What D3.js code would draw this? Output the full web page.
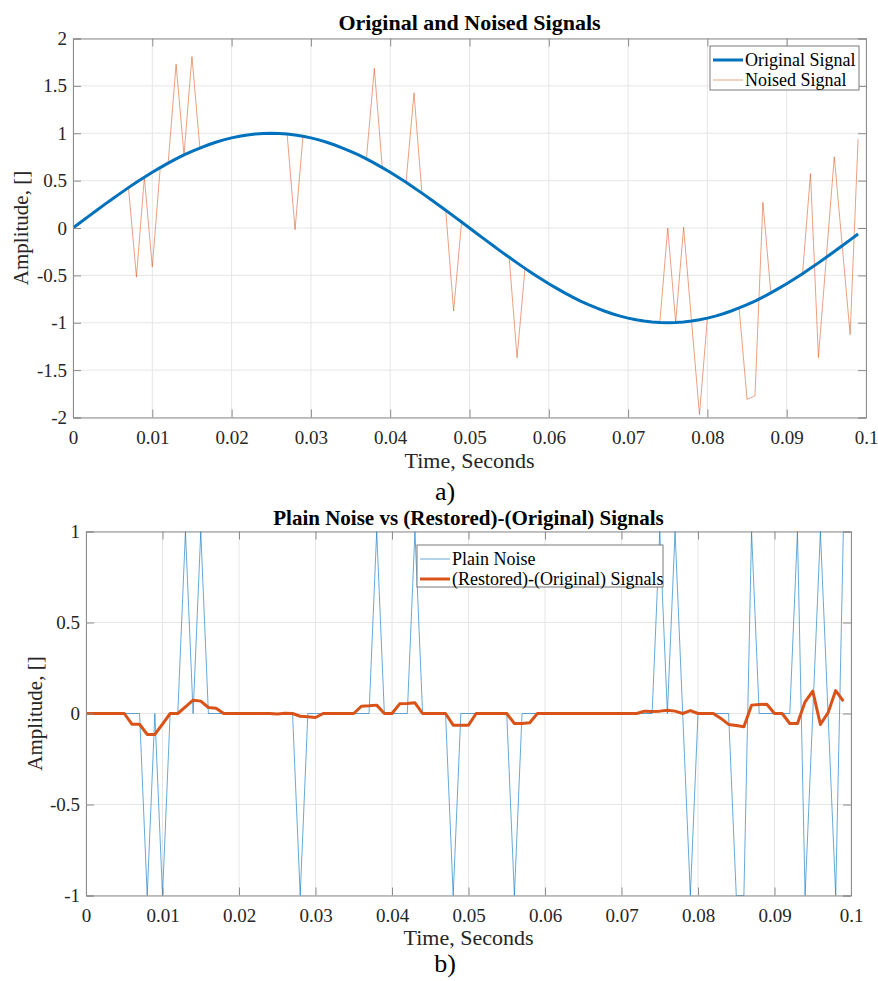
<!DOCTYPE html>
<html>
<head>
<meta charset="utf-8">
<script src="https://cdn.jsdelivr.net/npm/d3@7"></script>
<style>
  body { margin: 0; background: #fff; }
  svg { display: block; }
  svg text { font-family: "Liberation Serif", "Times New Roman", serif !important; }
</style>
</head>
<body>
<svg id="chart" width="878" height="981"></svg>
<script>
"use strict";

// sample times, 1 ms apart
const time = d3.range(100).map(i => i / 1000);

const originalSignal = [
    0, 0.063, 0.125, 0.187, 0.249, 0.309, 0.368, 0.426, 0.482, 0.536,
    0.588, 0.637, 0.685, 0.729, 0.771, 0.809, 0.844, 0.876, 0.905, 0.930,
    0.951, 0.969, 0.982, 0.992, 0.998, 1.000, 0.998, 0.992, 0.982, 0.969,
    0.951, 0.930, 0.905, 0.876, 0.844, 0.809, 0.771, 0.729, 0.685, 0.637,
    0.588, 0.536, 0.482, 0.426, 0.368, 0.309, 0.249, 0.187, 0.125, 0.063,
    0, -0.063, -0.125, -0.187, -0.249, -0.309, -0.368, -0.426, -0.482, -0.536,
    -0.588, -0.637, -0.685, -0.729, -0.771, -0.809, -0.844, -0.876, -0.905, -0.930,
    -0.951, -0.969, -0.982, -0.992, -0.998, -1.000, -0.998, -0.992, -0.982, -0.969,
    -0.951, -0.930, -0.905, -0.876, -0.844, -0.809, -0.771, -0.729, -0.685, -0.637,
    -0.588, -0.536, -0.482, -0.426, -0.368, -0.309, -0.249, -0.187, -0.125, -0.063
];

const noisedSignal = [
    0, 0.063, 0.125, 0.187, 0.249, 0.309, 0.368, 0.426, -0.518, 0.536,
    -0.412, 0.637, 0.685, 1.729, 0.771, 1.809, 0.844, 0.876, 0.905, 0.930,
    0.951, 0.969, 0.982, 0.992, 0.998, 1.000, 0.998, 0.992, -0.018, 0.969,
    0.951, 0.930, 0.905, 0.876, 0.844, 0.809, 0.771, 0.729, 1.685, 0.637,
    0.588, 0.536, 0.482, 1.426, 0.368, 0.309, 0.249, 0.187, -0.875, 0.063,
    0, -0.063, -0.125, -0.187, -0.249, -0.309, -1.368, -0.426, -0.482, -0.536,
    -0.588, -0.637, -0.685, -0.729, -0.771, -0.809, -0.844, -0.876, -0.905, -0.930,
    -0.951, -0.969, -0.982, -0.992, -0.998, 0.000, -0.998, 0.008, -0.982, -1.969,
    -0.951, -0.930, -0.905, -0.876, -0.844, -1.809, -1.771, 0.271, -0.685, -0.637,
    -0.588, -0.536, -0.482, 0.574, -1.368, -0.309, 0.751, -0.187, -1.125, 0.937
];

const plainNoise = [
    0, 0, 0, 0, 0, 0, 0, 0, -1, 0,
    -1, 0, 0, 1, 0, 1, 0, 0, 0, 0,
    0, 0, 0, 0, 0, 0, 0, 0, -1, 0,
    0, 0, 0, 0, 0, 0, 0, 0, 1, 0,
    0, 0, 0, 1, 0, 0, 0, 0, -1, 0,
    0, 0, 0, 0, 0, 0, -1, 0, 0, 0,
    0, 0, 0, 0, 0, 0, 0, 0, 0, 0,
    0, 0, 0, 0, 0, 1, 0, 1, 0, -1,
    0, 0, 0, 0, 0, -1, -1, 1, 0, 0,
    0, 0, 0, 1, -1, 0, 1, 0, -1, 1
];

const restoredMinusOriginal = [
    0, 0, 0, 0, 0, 0, -0.059, -0.059, -0.115, -0.115,
    -0.058, 0, 0, 0.037, 0.073, 0.068, 0.033, 0.029, 0, 0,
    0, 0, 0, 0, 0, -0.003, 0.002, 0, -0.015, -0.018,
    -0.022, 0, 0, 0, 0, 0, 0.040, 0.042, 0.046, 0,
    0, 0.053, 0.055, 0.059, 0, 0, 0, 0, -0.064, -0.064,
    -0.064, 0, 0, 0, 0, 0, -0.055, -0.055, -0.051, 0,
    0, 0, 0, 0, 0, 0, 0, 0, 0, 0,
    0, 0, 0, 0.013, 0.011, 0.013, 0.018, 0.013, 0, 0.016,
    0, 0, 0, -0.027, -0.060, -0.066, -0.073, 0.046, 0.049, 0.051,
    0, 0, -0.055, -0.055, 0.064, 0.123, -0.060, 0.004, 0.126, 0.068
];

const xTicks = [0, 0.01, 0.02, 0.03, 0.04, 0.05, 0.06, 0.07, 0.08, 0.09, 0.1];
const yTicksTop = [-2, -1.5, -1, -0.5, 0, 0.5, 1, 1.5, 2];
const yTicksBottom = [-1, -0.5, 0, 0.5, 1];

const blue = "#0072BD";
const orange = "#D95319";
const serif = "'Liberation Serif', 'Times New Roman', serif";
const svg = d3.select("#chart");

const fmt = v => String(+v.toFixed(3));

function drawPanel(p) {
    const x = d3.scaleLinear().domain([0, 0.1]).range([p.left, p.right]);
    const y = d3.scaleLinear().domain(p.yDomain).range([p.bottom, p.top]);
    const g = svg.append("g");
    const w = p.right - p.left, h = p.bottom - p.top;

    // grid
    g.append("g").selectAll("line").data(xTicks).join("line")
        .attr("x1", d => x(d)).attr("x2", d => x(d))
        .attr("y1", p.top).attr("y2", p.bottom)
        .attr("stroke", "#e6e6e6").attr("stroke-width", 1);
    g.append("g").selectAll("line").data(p.yTicks).join("line")
        .attr("x1", p.left).attr("x2", p.right)
        .attr("y1", d => y(d)).attr("y2", d => y(d))
        .attr("stroke", "#e6e6e6").attr("stroke-width", 1);

    // data
    const clipId = "clip" + p.id;
    svg.append("clipPath").attr("id", clipId).append("rect")
        .attr("x", p.left).attr("y", p.top - 1).attr("width", w).attr("height", h + 2);
    const lines = g.append("g").attr("clip-path", "url(#" + clipId + ")");
    p.series.forEach(s => {
        lines.append("path")
            .datum(s.values)
            .attr("fill", "none")
            .attr("stroke", s.color)
            .attr("stroke-opacity", s.opacity)
            .attr("stroke-width", s.width)
            .attr("stroke-linejoin", "round")
            .attr("d", d3.line().x((d, i) => x(time[i])).y(d => y(d)));
    });

    // axes, ticks inside, box on
    const axisColor = "#8c8c8c";
    const tickLen = 8;
    const bottomAxis = d3.axisBottom(x).tickValues(xTicks).tickSize(-tickLen).tickPadding(13).tickFormat(fmt);
    const topAxis = d3.axisTop(x).tickValues(xTicks).tickSize(-tickLen).tickFormat("");
    const leftAxis = d3.axisLeft(y).tickValues(p.yTicks).tickSize(-tickLen).tickPadding(6).tickFormat(fmt);
    const rightAxis = d3.axisRight(y).tickValues(p.yTicks).tickSize(-tickLen).tickFormat("");

    const axes = [
        [bottomAxis, "translate(0," + p.bottom + ")"],
        [topAxis, "translate(0," + p.top + ")"],
        [leftAxis, "translate(" + p.left + ",0)"],
        [rightAxis, "translate(" + p.right + ",0)"]
    ];
    axes.forEach(a => {
        const ag = g.append("g").attr("transform", a[1]).call(a[0])
            .attr("font-family", serif).attr("font-size", 19);
        ag.select(".domain").attr("stroke", axisColor);
        ag.selectAll(".tick line").attr("stroke", axisColor);
        ag.selectAll(".tick text").attr("fill", "#262626");
    });

    // title
    svg.append("text")
        .attr("x", (p.left + p.right) / 2).attr("y", p.titleY)
        .attr("text-anchor", "middle")
        .attr("font-family", serif)
        .style("font-weight", "bold").style("font-size", p.titleSize + "px")
        .attr("fill", "#000")
        .text(p.title);

    // x label
    svg.append("text")
        .attr("x", (p.left + p.right) / 2).attr("y", p.xLabelY)
        .attr("text-anchor", "middle")
        .attr("font-family", serif)
        .style("font-size", "22px").attr("fill", "#262626")
        .text("Time, Seconds");

    // y label
    svg.append("text")
        .attr("transform", "translate(" + p.yLabelX + "," + (p.top + p.bottom) / 2 + ") rotate(-90)")
        .attr("text-anchor", "middle")
        .attr("font-family", serif)
        .style("font-size", "21px").attr("fill", "#262626")
        .text("Amplitude, []");

    // panel letter
    svg.append("text")
        .attr("x", p.letterX).attr("y", p.letterY)
        .attr("text-anchor", "middle")
        .attr("font-family", serif)
        .style("font-size", "26px").attr("fill", "#000")
        .text(p.letter);

    // legend
    const lg = svg.append("g").attr("transform", "translate(" + p.legend.x + "," + p.legend.y + ")");
    lg.append("rect")
        .attr("width", p.legend.w).attr("height", p.legend.h)
        .attr("fill", "#fff").attr("stroke", "#7a7a7a").attr("stroke-width", 1);
    p.series.slice().sort((a, b) => a.legendOrder - b.legendOrder).forEach((s, i) => {
        const ly = 14 + i * 20;
        lg.append("line")
            .attr("x1", 3).attr("x2", 33).attr("y1", ly).attr("y2", ly)
            .attr("stroke", s.color).attr("stroke-opacity", s.opacity)
            .attr("stroke-width", s.width);
        lg.append("text")
            .attr("x", 35).attr("y", ly + 6)
            .attr("font-family", serif)
            .style("font-size", "18px").attr("fill", "#000")
            .text(s.name);
    });
}

drawPanel({
    id: "a",
    left: 73, right: 866, top: 38.5, bottom: 417.5,
    yDomain: [-2, 2], yTicks: yTicksTop,
    title: "Original and Noised Signals", titleY: 30, titleSize: 22,
    xLabelY: 468, yLabelX: 28,
    letter: "a)", letterX: 445, letterY: 500,
    legend: { x: 710, y: 46, w: 149, h: 44 },
    series: [
        { name: "Noised Signal", values: noisedSignal, color: orange, opacity: 0.55, width: 1, legendOrder: 2 },
        { name: "Original Signal", values: originalSignal, color: blue, opacity: 1, width: 3, legendOrder: 1 }
    ]
});

drawPanel({
    id: "b",
    left: 86, right: 851, top: 531.5, bottom: 895.5,
    yDomain: [-1, 1], yTicks: yTicksBottom,
    title: "Plain Noise vs (Restored)-(Original) Signals", titleY: 525, titleSize: 21,
    xLabelY: 945, yLabelX: 42,
    letter: "b)", letterX: 445, letterY: 972,
    legend: { x: 417, y: 545, w: 246, h: 42 },
    series: [
        { name: "Plain Noise", values: plainNoise, color: blue, opacity: 0.6, width: 1, legendOrder: 1 },
        { name: "(Restored)-(Original) Signals", values: restoredMinusOriginal, color: orange, opacity: 1, width: 3, legendOrder: 2 }
    ]
});
</script>
</body>
</html>
